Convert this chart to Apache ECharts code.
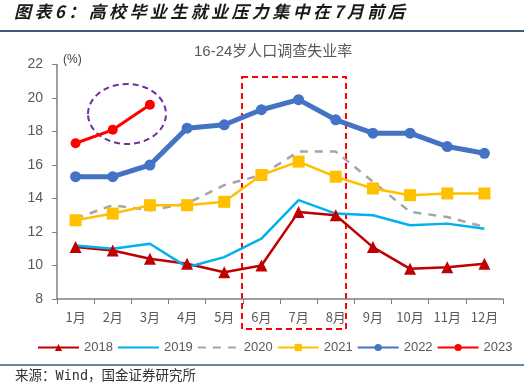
<!DOCTYPE html>
<html><head><meta charset="utf-8">
<script src="https://cdn.jsdelivr.net/npm/echarts@6/dist/echarts.min.js"></script>
<style>html,body{margin:0;padding:0;background:#fff}#c{width:524px;height:391px}</style>
</head><body><div id="c"></div>
<script>
const months = ['1月','2月','3月','4月','5月','6月','7月','8月','9月','10月','11月','12月'];
const y2018 = [11.1,10.9,10.4,10.1,9.6,10.0,13.2,13.0,11.1,9.8,9.9,10.1];
const y2019 = [11.2,11.0,11.3,9.9,10.5,11.6,13.9,13.1,13.0,12.4,12.5,12.2];
const y2020 = [12.8,13.6,13.3,13.7,14.8,15.4,16.8,16.8,15.0,13.2,12.9,12.3];
const y2021 = [12.7,13.1,13.6,13.6,13.8,15.4,16.2,15.3,14.6,14.2,14.3,14.3];
const y2022 = [15.3,15.3,16.0,18.2,18.4,19.3,19.9,18.7,17.9,17.9,17.1,16.7];
const y2023 = [17.3,18.1,19.6];
const yTicks = {min:8, max:22, interval:2};
const titleText = '图表6：高校毕业生就业压力集中在7月前后';
const sourceText = '来源：Wind，国金证券研究所';

const chart = echarts.init(document.getElementById('c'));
const font = '"Liberation Sans", Arial, sans-serif';
const sp = '\u2009';
chart.setOption({
  animation:false,
  textStyle:{fontFamily:font},
  grid:{left:57,right:21,top:64.5,bottom:92},
  xAxis:{type:'category',data:months,boundaryGap:true,
    axisLine:{lineStyle:{color:'#808080',width:1.5}},
    axisTick:{show:true,alignWithLabel:false,length:5,lineStyle:{color:'#808080'}},
    axisLabel:{color:'#595959',fontSize:13,margin:12,fontFamily:'"Noto Sans CJK SC", sans-serif'}},
  yAxis:{type:'value',min:yTicks.min,max:yTicks.max,interval:yTicks.interval,
    axisLine:{show:true,lineStyle:{color:'#808080',width:1.5}},
    axisTick:{show:true,length:5,lineStyle:{color:'#808080'}},
    splitLine:{show:false},
    axisLabel:{color:'#595959',fontSize:14,margin:14}},
  legend:{top:341,left:37,width:500,padding:0,itemGap:4,itemWidth:41,itemHeight:9,
    textStyle:{fontSize:13,color:'#595959',fontFamily:font},
    data:['2018',{name:'2019',itemStyle:{opacity:0}},{name:'2020',itemStyle:{opacity:0}},'2021','2022','2023']},
  series:[
    {name:'2018',type:'line',data:y2018,color:'#C00000',symbol:'triangle',symbolSize:12,
      lineStyle:{width:2.5},itemStyle:{color:'#C00000'}},
    {name:'2019',type:'line',data:y2019,color:'#00B0F0',symbol:'none',showSymbol:false,
      lineStyle:{width:2.5}},
    {name:'2020',type:'line',data:y2020,color:'#A5A5A5',symbol:'none',showSymbol:false,
      lineStyle:{width:2.5,type:[8,7]}},
    {name:'2021',type:'line',data:y2021,color:'#FFC000',symbol:'rect',symbolSize:12,
      lineStyle:{width:2.5}},
    {name:'2022',type:'line',data:y2022,color:'#4472C4',symbol:'circle',symbolSize:11,
      lineStyle:{width:5}},
    {name:'2023',type:'line',data:y2023,color:'#FF0000',symbol:'circle',symbolSize:10,
      lineStyle:{width:3}}
  ],
  graphic:[
    {type:'text',left:14,top:3,style:{text:titleText.split('').join(sp),
      font:'italic bold 17px "Noto Sans CJK SC", sans-serif',fill:'#1a1a1a'}},
    {type:'line',shape:{x1:0,y1:31,x2:524,y2:31},style:{stroke:'#3B5B7A',lineWidth:2}},
    {type:'text',left:194,top:44,style:{text:'16-24岁人口调查失业率',
      font:'15px "Liberation Sans", "Noto Sans CJK SC", sans-serif',fill:'#595959'}},
    {type:'text',left:63,top:54,style:{text:'(%)',font:'12px '+font,fill:'#404040'}},
    {type:'ellipse',shape:{cx:127,cy:114,rx:39,ry:30},
      style:{fill:'none',stroke:'#7030A0',lineWidth:2,lineDash:[6,4]}},
    {type:'rect',shape:{x:242,y:77,width:104,height:252},
      style:{fill:'none',stroke:'#FF0000',lineWidth:2,lineDash:[6,4]}},
    {type:'line',shape:{x1:0,y1:365,x2:524,y2:365},style:{stroke:'#3B5B7A',lineWidth:1.5}},
    {type:'text',left:15,top:370,style:{text:sourceText,
      font:'13.5px "DejaVu Sans Mono", "Noto Sans CJK SC", monospace',fill:'#333'}}
  ]
});
</script></body></html>
